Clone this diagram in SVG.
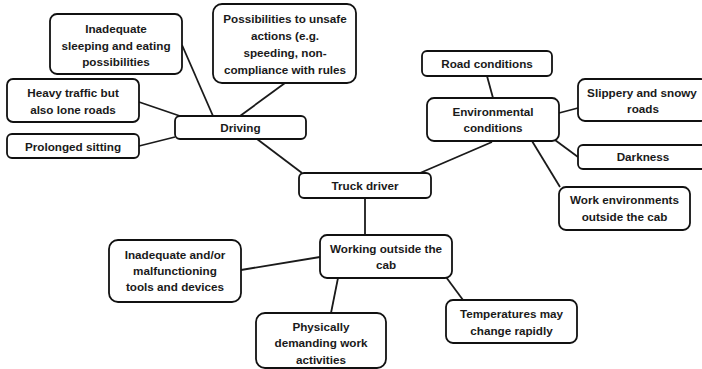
<svg xmlns="http://www.w3.org/2000/svg" width="702" height="369" viewBox="0 0 702 369">
  <style>
    .box { fill: #ffffff; stroke: #111111; stroke-width: 1.8; }
    .lbl { font-family: "Liberation Sans", Arial, sans-serif; font-weight: bold; font-size: 11.7px; fill: #1a1a1a; text-anchor: middle; }
    .link { stroke: #1a1a1a; stroke-width: 1.8; fill: none; }
  </style>
  <rect width="702" height="369" fill="#ffffff"/>

  <!-- connectors -->
  <g id="connectors">
    <line class="link" x1="182" y1="45" x2="213" y2="116"/>
    <line class="link" x1="285" y1="83" x2="240" y2="116"/>
    <line class="link" x1="139" y1="102" x2="180" y2="116"/>
    <line class="link" x1="139" y1="146" x2="175" y2="137"/>
    <line class="link" x1="257" y1="139" x2="302" y2="173"/>
    <line class="link" x1="487" y1="76" x2="493" y2="98"/>
    <line class="link" x1="559" y1="113" x2="578" y2="108"/>
    <line class="link" x1="555" y1="140" x2="578" y2="157"/>
    <line class="link" x1="532" y1="141" x2="560" y2="187"/>
    <line class="link" x1="492" y1="142" x2="420" y2="173"/>
    <line class="link" x1="365" y1="198" x2="365" y2="235"/>
    <line class="link" x1="241" y1="270" x2="320" y2="257"/>
    <line class="link" x1="338" y1="278" x2="331" y2="313"/>
    <line class="link" x1="446" y1="277" x2="463" y2="300"/>
  </g>

  <!-- driving branch -->
  <g id="sleeping">
    <rect class="box" x="50" y="14" width="132" height="60" rx="7"/>
    <text class="lbl" x="116" y="33">Inadequate</text>
    <text class="lbl" x="116" y="49.5">sleeping and eating</text>
    <text class="lbl" x="116" y="66">possibilities</text>
  </g>
  <g id="unsafe">
    <rect class="box" x="213" y="4" width="143" height="79" rx="9"/>
    <text class="lbl" x="285" y="23">Possibilities to unsafe</text>
    <text class="lbl" x="285" y="40">actions (e.g.</text>
    <text class="lbl" x="285" y="57">speeding, non-</text>
    <text class="lbl" x="285" y="74">compliance with rules</text>
  </g>
  <g id="traffic">
    <rect class="box" x="7" y="79" width="132" height="43" rx="6"/>
    <text class="lbl" x="73" y="97">Heavy traffic but</text>
    <text class="lbl" x="73" y="113.5">also lone roads</text>
  </g>
  <g id="sitting">
    <rect class="box" x="7" y="134" width="132" height="24" rx="5"/>
    <text class="lbl" x="73" y="151">Prolonged sitting</text>
  </g>
  <g id="driving">
    <rect class="box" x="175" y="116" width="131" height="23" rx="5"/>
    <text class="lbl" x="240.5" y="132">Driving</text>
  </g>

  <!-- environmental branch -->
  <g id="road">
    <rect class="box" x="422" y="51" width="130" height="25" rx="5"/>
    <text class="lbl" x="487" y="67.5">Road conditions</text>
  </g>
  <g id="environment">
    <rect class="box" x="427" y="98" width="132" height="43" rx="7"/>
    <text class="lbl" x="493" y="116">Environmental</text>
    <text class="lbl" x="493" y="132">conditions</text>
  </g>
  <g id="slippery">
    <rect class="box" x="578" y="79" width="130" height="42" rx="7"/>
    <text class="lbl" x="642" y="97">Slippery and snowy</text>
    <text class="lbl" x="643" y="112.5">roads</text>
  </g>
  <g id="darkness">
    <rect class="box" x="578" y="145" width="130" height="24" rx="5"/>
    <text class="lbl" x="643" y="161">Darkness</text>
  </g>
  <g id="workenv">
    <rect class="box" x="559" y="187" width="131" height="43" rx="7"/>
    <text class="lbl" x="624.5" y="204">Work environments</text>
    <text class="lbl" x="624.5" y="221">outside the cab</text>
  </g>

  <!-- centre -->
  <g id="truck">
    <rect class="box" x="299" y="173" width="132" height="25" rx="5"/>
    <text class="lbl" x="365" y="190">Truck driver</text>
  </g>

  <!-- outside-the-cab branch -->
  <g id="outside">
    <rect class="box" x="320" y="235" width="132" height="43" rx="7"/>
    <text class="lbl" x="386" y="253">Working outside the</text>
    <text class="lbl" x="386" y="269">cab</text>
  </g>
  <g id="tools">
    <rect class="box" x="109" y="240" width="132" height="62" rx="9"/>
    <text class="lbl" x="175" y="259">Inadequate and/or</text>
    <text class="lbl" x="175" y="275">malfunctioning</text>
    <text class="lbl" x="175" y="291">tools and devices</text>
  </g>
  <g id="physical">
    <rect class="box" x="256" y="313" width="130" height="55" rx="9"/>
    <text class="lbl" x="321" y="331">Physically</text>
    <text class="lbl" x="321" y="347">demanding work</text>
    <text class="lbl" x="321" y="364">activities</text>
  </g>
  <g id="temperature">
    <rect class="box" x="446" y="300" width="131" height="43" rx="7"/>
    <text class="lbl" x="511.5" y="318">Temperatures may</text>
    <text class="lbl" x="511.5" y="335">change rapidly</text>
  </g>
</svg>
